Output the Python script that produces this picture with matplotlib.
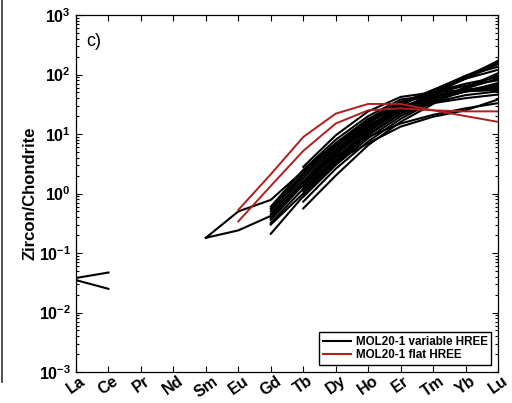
import numpy as np
import matplotlib
matplotlib.use("Agg")
import matplotlib.pyplot as plt
from matplotlib.lines import Line2D

plt.rcParams['font.family'] = ['Liberation Sans', 'DejaVu Sans']
plt.rcParams['mathtext.fontset'] = 'custom'
plt.rcParams['mathtext.bf'] = 'Liberation Sans:bold'
plt.rcParams['mathtext.rm'] = 'Liberation Sans'

elements = ['La', 'Ce', 'Pr', 'Nd', 'Sm', 'Eu', 'Gd', 'Tb', 'Dy', 'Ho', 'Er', 'Tm', 'Yb', 'Lu']
nan = np.nan

# chondrite-normalised values, La..Lu
variable_hree = [
    [0.038, 0.047, nan, nan, nan, nan, nan, nan, nan, nan, nan, nan, nan, nan],
    [0.035, 0.025, nan, nan, nan, nan, nan, nan, nan, nan, nan, nan, nan, nan],
    [nan, nan, nan, nan, 0.18, 0.50, 0.78, 2.4, 7.0, 16, 29, 42, 55, 66],
    [nan, nan, nan, nan, 0.18, 0.24, 0.42, 1.4, 4.6, 13, 27, 40, 52, 60],
    [nan, nan, nan, nan, nan, nan, 0.21, 0.9, 3.2, 9.5, 22, 45, 90, 170],
    [nan, nan, nan, nan, nan, nan, 0.32, 1.2, 4.0, 11, 25, 48, 85, 150],
    [nan, nan, nan, nan, nan, nan, 0.36, 1.4, 4.8, 13, 30, 55, 95, 135],
    [nan, nan, nan, nan, nan, nan, 0.41, 1.6, 5.5, 15, 33, 55, 85, 120],
    [nan, nan, nan, nan, nan, nan, nan, 0.56, 2.0, 6.5, 16, 32, 60, 105],
    [nan, nan, nan, nan, nan, nan, nan, 0.73, 2.6, 7.5, 18, 35, 62, 95],
    [nan, nan, nan, nan, nan, nan, nan, 0.88, 3.0, 8.5, 20, 36, 58, 85],
    [nan, nan, nan, nan, nan, nan, 0.45, 1.8, 6.0, 16, 32, 50, 70, 90],
    [nan, nan, nan, nan, nan, nan, 0.50, 2.0, 6.5, 17, 33, 48, 65, 80],
    [nan, nan, nan, nan, nan, nan, nan, 1.0, 3.5, 10, 22, 36, 52, 72],
    [nan, nan, nan, nan, nan, nan, nan, 1.1, 4.0, 11, 24, 38, 52, 65],
    [nan, nan, nan, nan, nan, nan, 0.55, 2.2, 7.0, 18, 35, 45, 55, 60],
    [nan, nan, nan, nan, nan, nan, nan, 1.3, 4.5, 12, 24, 34, 45, 52],
    [nan, nan, nan, nan, nan, nan, nan, 1.5, 5.0, 13, 25, 33, 40, 46],
    [nan, nan, nan, nan, nan, nan, 0.60, 2.5, 8.0, 20, 38, 45, 52, 55],
    [nan, nan, nan, nan, nan, nan, nan, 2.8, 9.5, 24, 42, 50, 55, 58],
    [nan, nan, nan, nan, nan, nan, nan, 1.6, 4.2, 9.0, 15, 21, 27, 33],
    [nan, nan, nan, nan, nan, nan, nan, 1.2, 3.5, 7.0, 13.3, 19.5, 25, 38],
    [nan, nan, nan, nan, nan, nan, 0.38, 1.5, 5.2, 14, 28, 40, 52, 62],
    [nan, nan, nan, nan, nan, nan, 0.30, 1.0, 3.6, 11, 26, 50, 95, 160],
]
flat_hree = [
    [nan, nan, nan, nan, nan, 0.53, 2.1, 8.9, 22, 32, 32, 25, 20, 16],
    [nan, nan, nan, nan, nan, 0.34, 1.34, 5.2, 15, 25, 27, 25, 24, 24],
]

fig = plt.figure(figsize=(5.12, 4.03), dpi=100)
ax = fig.add_axes([76 / 512, 31 / 403, 422 / 512, 357 / 403])
x = np.arange(len(elements))

for row in variable_hree:
    ax.plot(x, row, color='black', lw=1.5)
for row in flat_hree:
    ax.plot(x, row, color='#b01e1e', lw=1.4)

ax.set_yscale('log')
ax.set_ylim(1e-3, 1e3)
ax.set_xlim(0, len(elements) - 1)
ax.set_xticks(x)
ax.set_xticklabels(elements, rotation=35, ha='center', fontsize=11.5, fontweight='bold')
yt = [1e-3, 1e-2, 1e-1, 1e0, 1e1, 1e2, 1e3]
ax.set_yticks(yt)
ax.set_yticklabels([r'$\mathbf{10^{%d}}$' % int(np.log10(v)) for v in yt], fontsize=11.5)
ax.tick_params(which='both', direction='in', top=True, right=True, width=0.8)
ax.tick_params(which='major', length=4)
ax.tick_params(which='minor', length=2)
ax.tick_params(axis='x', pad=1)
for s in ax.spines.values():
    s.set_linewidth(0.9)
ax.set_ylabel('Zircon/Chondrite', fontsize=12, fontweight='bold', labelpad=1)
ax.text(0.025, 0.95, 'c)', transform=ax.transAxes, fontsize=13, va='top', ha='left')

handles = [Line2D([], [], color='black', lw=1.5), Line2D([], [], color='#b01e1e', lw=1.5)]
ax.legend(handles, ['MOL20-1 variable HREE', 'MOL20-1 flat HREE'], loc='lower right',
          prop={'size': 8.4, 'weight': 'bold'}, fancybox=False, edgecolor='black',
          framealpha=1, borderaxespad=0.6, handlelength=2.4, borderpad=0.3,
          labelspacing=0.15, handletextpad=0.4)

fig.add_artist(Line2D([2 / 512, 2 / 512], [21 / 403, 1.0], color='#333333', lw=1.2))

fig.savefig('out.png', dpi=100)
